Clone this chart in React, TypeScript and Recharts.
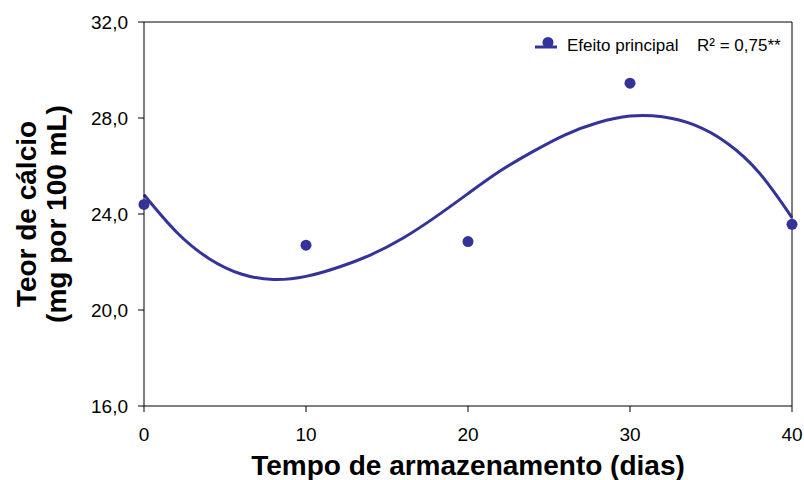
import {
  ComposedChart,
  Line,
  Scatter,
  XAxis,
  YAxis,
  Legend,
  Label,
  ReferenceLine,
} from "recharts"

const FONT = '"Liberation Sans", Arial, Helvetica, sans-serif'
const NAVY = "#333399"

// storage days on the x axis
const dayTicks = [0, 10, 20, 30, 40]
const calciumTicks = [16, 20, 24, 28, 32]

// measured means
const observedDays = [0, 10, 20, 30, 40]
const observedCalcium = [24.4, 22.7, 22.85, 29.45, 23.57]

// fitted trend line, sampled every 2 days
const fitDays = [0, 2, 4, 6, 8, 10, 12, 14, 16, 18, 20, 22, 24, 26, 28, 30, 32, 34, 36, 38, 40]
const fitCalcium = [
  24.8, 23.25, 22.15, 21.5, 21.27, 21.4, 21.78, 22.3, 23.0, 23.88, 24.85, 25.8, 26.6, 27.3,
  27.8, 28.08, 28.05, 27.7, 26.95, 25.7, 23.85,
]

const observed = observedDays.map((x, i) => ({ x, y: observedCalcium[i] }))
const fitted = fitDays.map((x, i) => ({ x, y: fitCalcium[i] }))

const fmt = (v: number) => v.toFixed(1).replace(".", ",")

function LegendBox() {
  return (
    <svg width={270} height={32} style={{ display: "block" }}>
      <line x1={5} y1={17} x2={27} y2={17} stroke={NAVY} strokeWidth={3} />
      <circle cx={18} cy={12.5} r={5.5} fill={NAVY} />
      <text x={37} y={21} fontFamily={FONT} fontSize={17} fill="#000">
        Efeito principal
      </text>
      <text x={167} y={21} fontFamily={FONT} fontSize={17} fill="#000">
        R² = 0,75**
      </text>
    </svg>
  )
}

function YTitle({ viewBox }: any) {
  const cy = viewBox.y + viewBox.height / 2
  const style = { fontFamily: FONT, fontSize: 28, fontWeight: 700, fill: "#000" }
  return (
    <g>
      <text x={36} y={cy} transform={`rotate(-90 36 ${cy})`} textAnchor="middle" {...style}>
        Teor de cálcio
      </text>
      <text x={66} y={cy} transform={`rotate(-90 66 ${cy})`} textAnchor="middle" {...style}>
        (mg por 100 mL)
      </text>
    </g>
  )
}

function XTitle({ viewBox }: any) {
  return (
    <text
      x={viewBox.x + viewBox.width / 2}
      y={viewBox.y + 69}
      textAnchor="middle"
      fontFamily={FONT}
      fontSize={28}
      fontWeight={700}
      fill="#000"
    >
      Tempo de armazenamento (dias)
    </text>
  )
}

export default function App() {
  return (
    <div style={{ position: "absolute", left: 0, top: 0, background: "#fff" }}>
      <ComposedChart width={804} height={480} margin={{ top: 22, right: 12, bottom: 0, left: 0 }}>
        <XAxis
          dataKey="x"
          type="number"
          domain={[0, 40]}
          ticks={dayTicks}
          height={74}
          stroke="#000"
          tickSize={6}
          tickMargin={16}
          tick={{ fill: "#000", fontSize: 19, fontFamily: FONT }}
        >
          <Label content={<XTitle />} />
        </XAxis>
        <YAxis
          dataKey="y"
          type="number"
          domain={[16, 32]}
          ticks={calciumTicks}
          width={144}
          stroke="#000"
          tickSize={6}
          tickMargin={10}
          tickFormatter={fmt}
          tick={{ fill: "#000", fontSize: 19, fontFamily: FONT }}
        >
          <Label content={<YTitle />} />
        </YAxis>
        <ReferenceLine y={32} stroke="#000" />
        <ReferenceLine x={40} stroke="#000" />
        <Line
          data={fitted}
          dataKey="y"
          type="natural"
          stroke={NAVY}
          strokeWidth={3}
          dot={false}
          isAnimationActive={false}
        />
        <Scatter
          data={observed}
          dataKey="y"
          fill={NAVY}
          shape={(p: any) => <circle cx={p.cx} cy={p.cy} r={5.5} fill={NAVY} />}
          isAnimationActive={false}
        />
        <Legend
          layout="vertical"
          align="center"
          verticalAlign="middle"
          content={<LegendBox />}
          wrapperStyle={{ left: 530, top: 30, width: 270, height: 32 }}
        />
      </ComposedChart>
    </div>
  )
}
